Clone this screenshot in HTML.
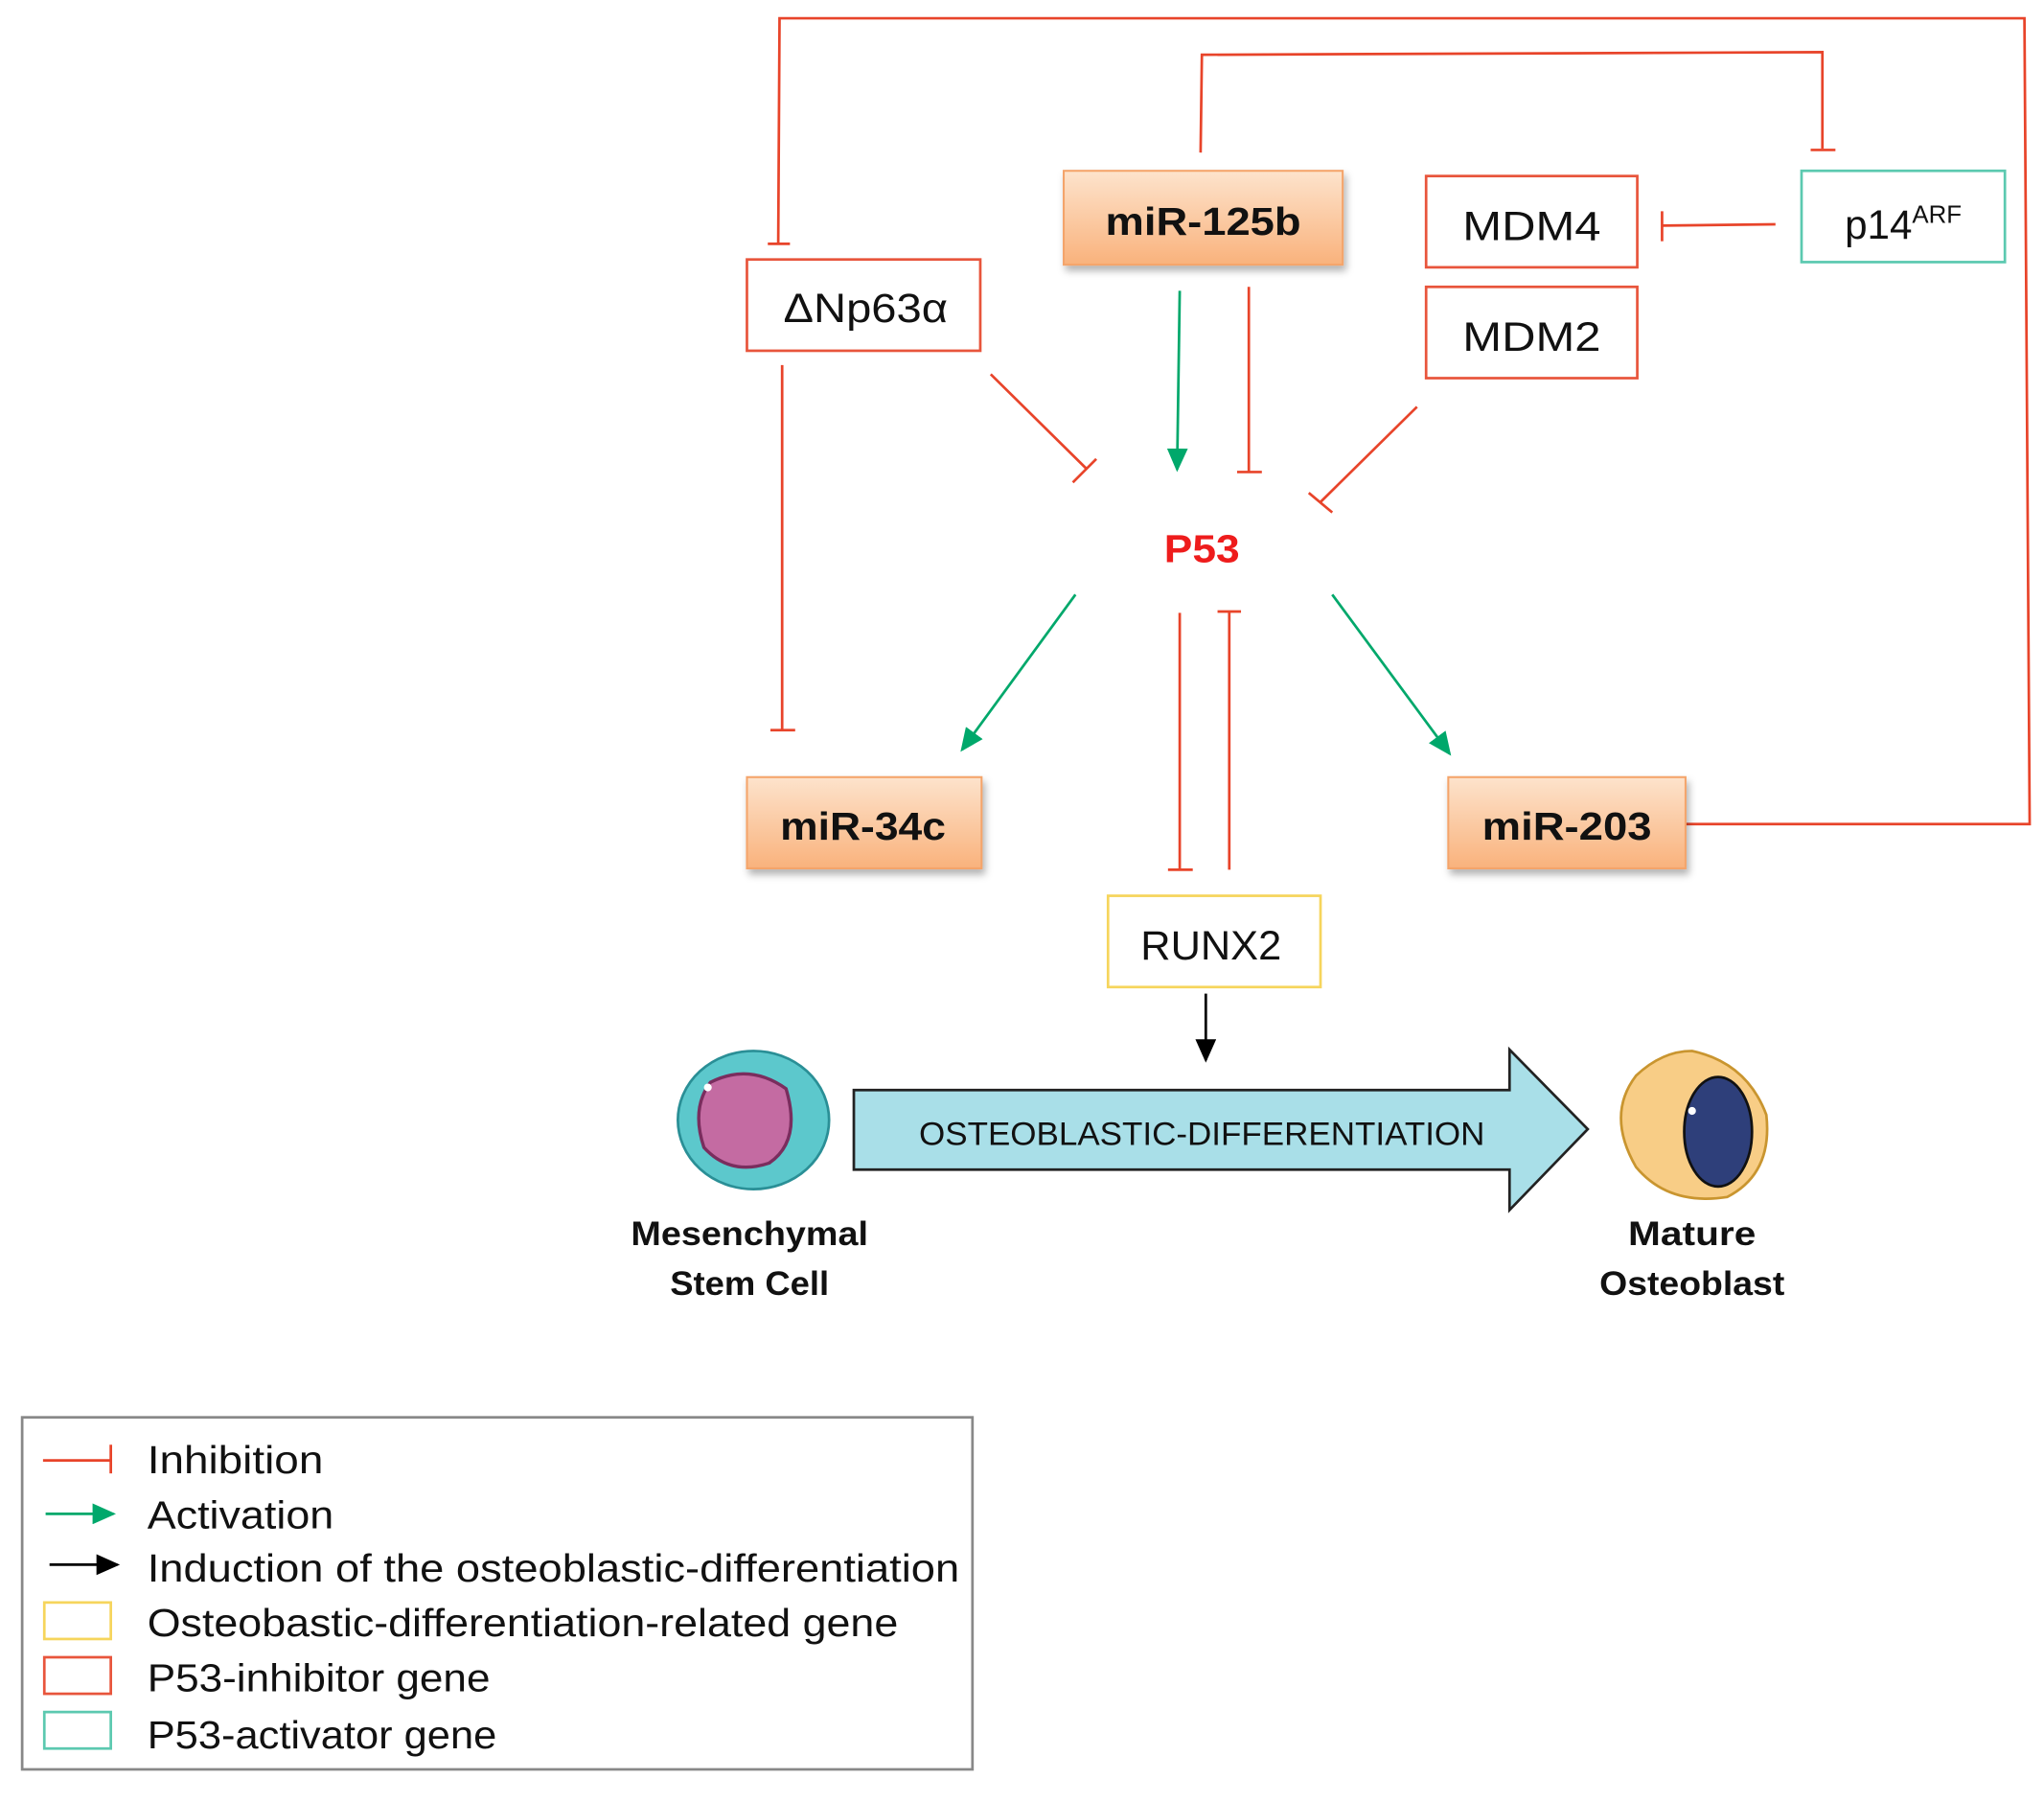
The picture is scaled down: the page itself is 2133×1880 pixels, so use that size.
<!DOCTYPE html>
<html><head><meta charset="utf-8">
<style>
html,body{margin:0;padding:0;background:#fff;}
svg{display:block;}
text{font-family:"Liberation Sans",sans-serif;}
</style></head>
<body>
<svg width="2133" height="1880" viewBox="0 0 1568 1382" xmlns="http://www.w3.org/2000/svg">
<defs>
<linearGradient id="og" x1="0" y1="0" x2="0" y2="1">
<stop offset="0" stop-color="#fde3cc"/><stop offset="1" stop-color="#f9b27c"/>
</linearGradient>
<filter id="sh" x="-10%" y="-10%" width="130%" height="140%"><feDropShadow dx="2" dy="4" stdDeviation="3" flood-color="#000" flood-opacity="0.3"/></filter>
<marker id="ga" markerWidth="18" markerHeight="16" refX="16" refY="8" orient="auto" markerUnits="userSpaceOnUse" viewBox="0 0 18 16"><path d="M0,0 L18,8 L0,16 z" fill="#00a86b"/></marker>
<marker id="ba" markerWidth="18" markerHeight="16" refX="16" refY="8" orient="auto" markerUnits="userSpaceOnUse" viewBox="0 0 18 16"><path d="M0,0 L18,8 L0,16 z" fill="#000"/></marker>
</defs>
<g fill="none" stroke="#e8442a" stroke-width="2">
<polyline points="1293,632 1557,632 1553,14 598,14 597,186"/>
<line x1="589" y1="187" x2="606" y2="187"/>
<polyline points="921,117 922,42 1398,40 1398,114"/>
<line x1="1389" y1="115" x2="1408" y2="115"/>
<line x1="1362" y1="172" x2="1275" y2="173"/>
<line x1="1275" y1="162" x2="1275" y2="185"/>
<line x1="958" y1="220" x2="958" y2="362"/>
<line x1="949" y1="362" x2="968" y2="362"/>
<line x1="760" y1="287" x2="834" y2="360"/>
<line x1="823" y1="370" x2="841" y2="352"/>
<line x1="1087" y1="312" x2="1013" y2="385"/>
<line x1="1004" y1="378" x2="1022" y2="393"/>
<line x1="600" y1="280" x2="600" y2="560"/>
<line x1="591" y1="560" x2="610" y2="560"/>
<line x1="905" y1="470" x2="905" y2="667"/>
<line x1="896" y1="667" x2="915" y2="667"/>
<line x1="943" y1="667" x2="943" y2="469"/>
<line x1="934" y1="469" x2="952" y2="469"/>
</g>
<g stroke="#00a86b" stroke-width="2" fill="none">
<line x1="905" y1="223" x2="903" y2="360" marker-end="url(#ga)"/>
<line x1="825" y1="456" x2="738" y2="575" marker-end="url(#ga)"/>
<line x1="1022" y1="456" x2="1112" y2="578" marker-end="url(#ga)"/>
</g>
<line x1="925" y1="762" x2="925" y2="813" stroke="#000" stroke-width="2" marker-end="url(#ba)"/>

<g filter="url(#sh)">
<rect x="816" y="131" width="214" height="72" fill="url(#og)" stroke="#f4a46a" stroke-width="1.5"/>
<rect x="573" y="596" width="180" height="70" fill="url(#og)" stroke="#f4a46a" stroke-width="1.5"/>
<rect x="1111" y="596" width="182" height="70" fill="url(#og)" stroke="#f4a46a" stroke-width="1.5"/>
</g>
<g font-weight="bold" font-size="30" text-anchor="middle" fill="#111">
<text x="923" y="180" textLength="150" lengthAdjust="spacingAndGlyphs">miR-125b</text>
<text x="662" y="644" textLength="127" lengthAdjust="spacingAndGlyphs">miR-34c</text>
<text x="1202" y="644" textLength="130" lengthAdjust="spacingAndGlyphs">miR-203</text>
</g>
<g fill="#fff" stroke-width="2">
<rect x="573" y="199" width="179" height="70" stroke="#e8553c"/>
<rect x="1094" y="135" width="162" height="70" stroke="#e8553c"/>
<rect x="1094" y="220" width="162" height="70" stroke="#e8553c"/>
<rect x="1382" y="131" width="156" height="70" stroke="#5cc9b0"/>
<rect x="850" y="687" width="163" height="70" stroke="#f6d55c"/>
</g>
<g font-size="31" text-anchor="middle" fill="#111">
<text x="664" y="247" textLength="126" lengthAdjust="spacingAndGlyphs">ΔNp63α</text>
<text x="1175" y="184" textLength="106" lengthAdjust="spacingAndGlyphs">MDM4</text>
<text x="1175" y="269" textLength="106" lengthAdjust="spacingAndGlyphs">MDM2</text>
<text x="1460" y="183">p14<tspan font-size="19" dy="-12">ARF</tspan></text>
<text x="929" y="736" textLength="108" lengthAdjust="spacingAndGlyphs">RUNX2</text>
</g>
<text x="922" y="431" font-size="30" font-weight="bold" fill="#ee1c1c" text-anchor="middle" textLength="58" lengthAdjust="spacingAndGlyphs">P53</text>

<path d="M655,836 L1158,836 L1158,805 L1218,866 L1158,928 L1158,897 L655,897 Z" fill="#a9dfe8" stroke="#222" stroke-width="2"/>
<text x="922" y="878" font-size="25" text-anchor="middle" fill="#111" textLength="434" lengthAdjust="spacingAndGlyphs">OSTEOBLASTIC-DIFFERENTIATION</text>

<ellipse cx="578" cy="859" rx="58" ry="53" fill="#5cc8cc" stroke="#2a8f96" stroke-width="2"/>
<path d="M545,830 Q575,815 603,835 Q615,875 590,892 Q560,902 540,880 Q530,850 545,830 Z" fill="#c46ba2" stroke="#7a2d5e" stroke-width="2.5"/>
<circle cx="543" cy="834" r="3" fill="#fff"/>
<path d="M1298,806 Q1340,815 1355,855 Q1360,900 1325,918 Q1280,925 1255,895 Q1232,855 1255,825 Q1275,806 1298,806 Z" fill="#f8cd86" stroke="#c9952f" stroke-width="2"/>
<ellipse cx="1318" cy="868" rx="26" ry="42" fill="#2e3f7a" stroke="#111" stroke-width="2"/>
<circle cx="1298" cy="852" r="3" fill="#fff"/>

<g font-size="26" font-weight="bold" text-anchor="middle" fill="#111">
<text x="575" y="955" textLength="182" lengthAdjust="spacingAndGlyphs">Mesenchymal</text>
<text x="575" y="993" textLength="122" lengthAdjust="spacingAndGlyphs">Stem Cell</text>
<text x="1298" y="955" textLength="98" lengthAdjust="spacingAndGlyphs">Mature</text>
<text x="1298" y="993" textLength="142" lengthAdjust="spacingAndGlyphs">Osteoblast</text>
</g>

<rect x="17" y="1087" width="729" height="270" fill="#fff" stroke="#888" stroke-width="2"/>
<g stroke-width="2">
<line x1="33" y1="1120" x2="85" y2="1120" stroke="#e8442a"/>
<line x1="85" y1="1108" x2="85" y2="1130" stroke="#e8442a"/>
<line x1="35" y1="1161" x2="87" y2="1161" stroke="#00a86b" marker-end="url(#ga)"/>
<line x1="38" y1="1200" x2="90" y2="1200" stroke="#000" marker-end="url(#ba)"/>
<rect x="34" y="1229" width="51" height="28" fill="none" stroke="#f6d55c"/>
<rect x="34" y="1271" width="51" height="28" fill="none" stroke="#e8553c"/>
<rect x="34" y="1313" width="51" height="28" fill="none" stroke="#5cc9b0"/>
</g>
<g font-size="30" fill="#111">
<text x="113" y="1130" textLength="135" lengthAdjust="spacingAndGlyphs">Inhibition</text>
<text x="113" y="1172" textLength="143" lengthAdjust="spacingAndGlyphs">Activation</text>
<text x="113" y="1213" textLength="623" lengthAdjust="spacingAndGlyphs">Induction of the osteoblastic-differentiation</text>
<text x="113" y="1255" textLength="576" lengthAdjust="spacingAndGlyphs">Osteobastic-differentiation-related gene</text>
<text x="113" y="1297" textLength="263" lengthAdjust="spacingAndGlyphs">P53-inhibitor gene</text>
<text x="113" y="1341" textLength="268" lengthAdjust="spacingAndGlyphs">P53-activator gene</text>
</g>
</svg>
</body></html>
